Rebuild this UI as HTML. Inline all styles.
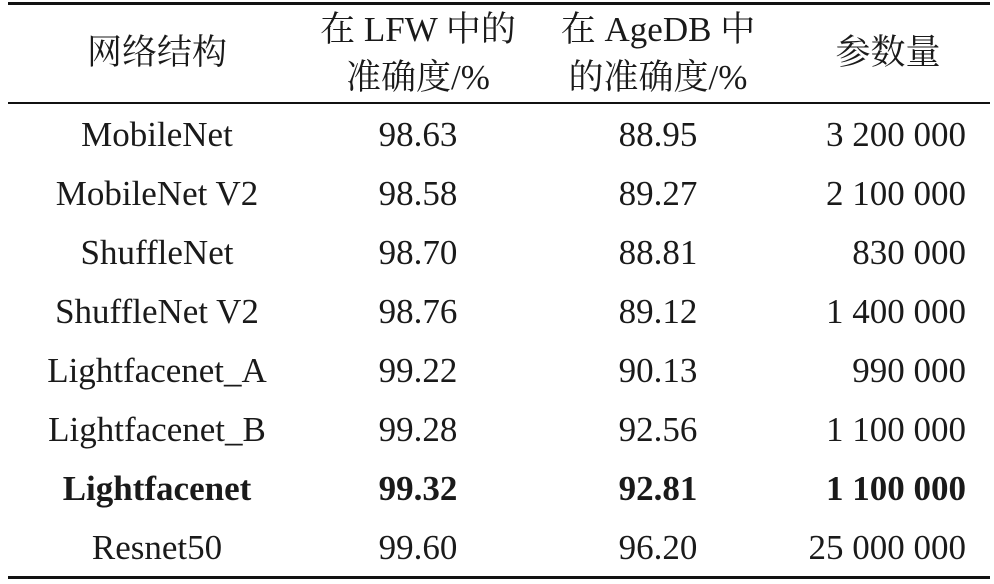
<!DOCTYPE html>
<html><head><meta charset="utf-8"><style>
body{margin:0;background:#fff;width:994px;height:584px;position:relative;overflow:hidden;font-family:"Liberation Serif","Noto Serif CJK SC",serif;color:#1a1a1a}
.r{position:absolute;left:8px;width:982px;background:#111}
.t{position:absolute;font-size:35px;line-height:40px;white-space:nowrap}
.c{transform:translateX(-50%)}
.rt{transform:translateX(-100%)}
.b{font-weight:bold}
</style></head><body>
<div class="r" style="top:2px;height:3px"></div>
<div class="r" style="top:102px;height:2px"></div>
<div class="r" style="top:576px;height:3px"></div>
<div class="t c" style="left:157px;top:33px">网络结构</div>
<div class="t c" style="left:418px;top:10px">在 LFW 中的</div>
<div class="t c" style="left:418px;top:58px">准确度/%</div>
<div class="t c" style="left:658px;top:10px">在 AgeDB 中</div>
<div class="t c" style="left:658px;top:58px">的准确度/%</div>
<div class="t c" style="left:888px;top:33px">参数量</div>
<div id="rows"></div>
<script>
const names=["MobileNet","MobileNet V2","ShuffleNet","ShuffleNet V2","Lightfacenet_A","Lightfacenet_B","Lightfacenet","Resnet50"];
const lfw=["98.63","98.58","98.70","98.76","99.22","99.28","99.32","99.60"];
const agedb=["88.95","89.27","88.81","89.12","90.13","92.56","92.81","96.20"];
const params=["3 200 000","2 100 000","830 000","1 400 000","990 000","1 100 000","1 100 000","25 000 000"];
const boldRow=6;
const cont=document.getElementById('rows');
names.forEach((n,i)=>{
  const top=115+i*59;
  const cells=[[n,157,'c','network-name'],[lfw[i],418,'c','lfw-accuracy'],[agedb[i],658,'c','agedb-accuracy'],[params[i],966,'rt','param-count']];
  cells.forEach(([txt,x,cls,nm])=>{
    const d=document.createElement('div');
    d.className='t '+cls+(i===boldRow?' b':'');
    d.style.left=x+'px';d.style.top=top+'px';
    d.textContent=txt;
    
    
    cont.appendChild(d);
  });
});
</script>
</body></html>
